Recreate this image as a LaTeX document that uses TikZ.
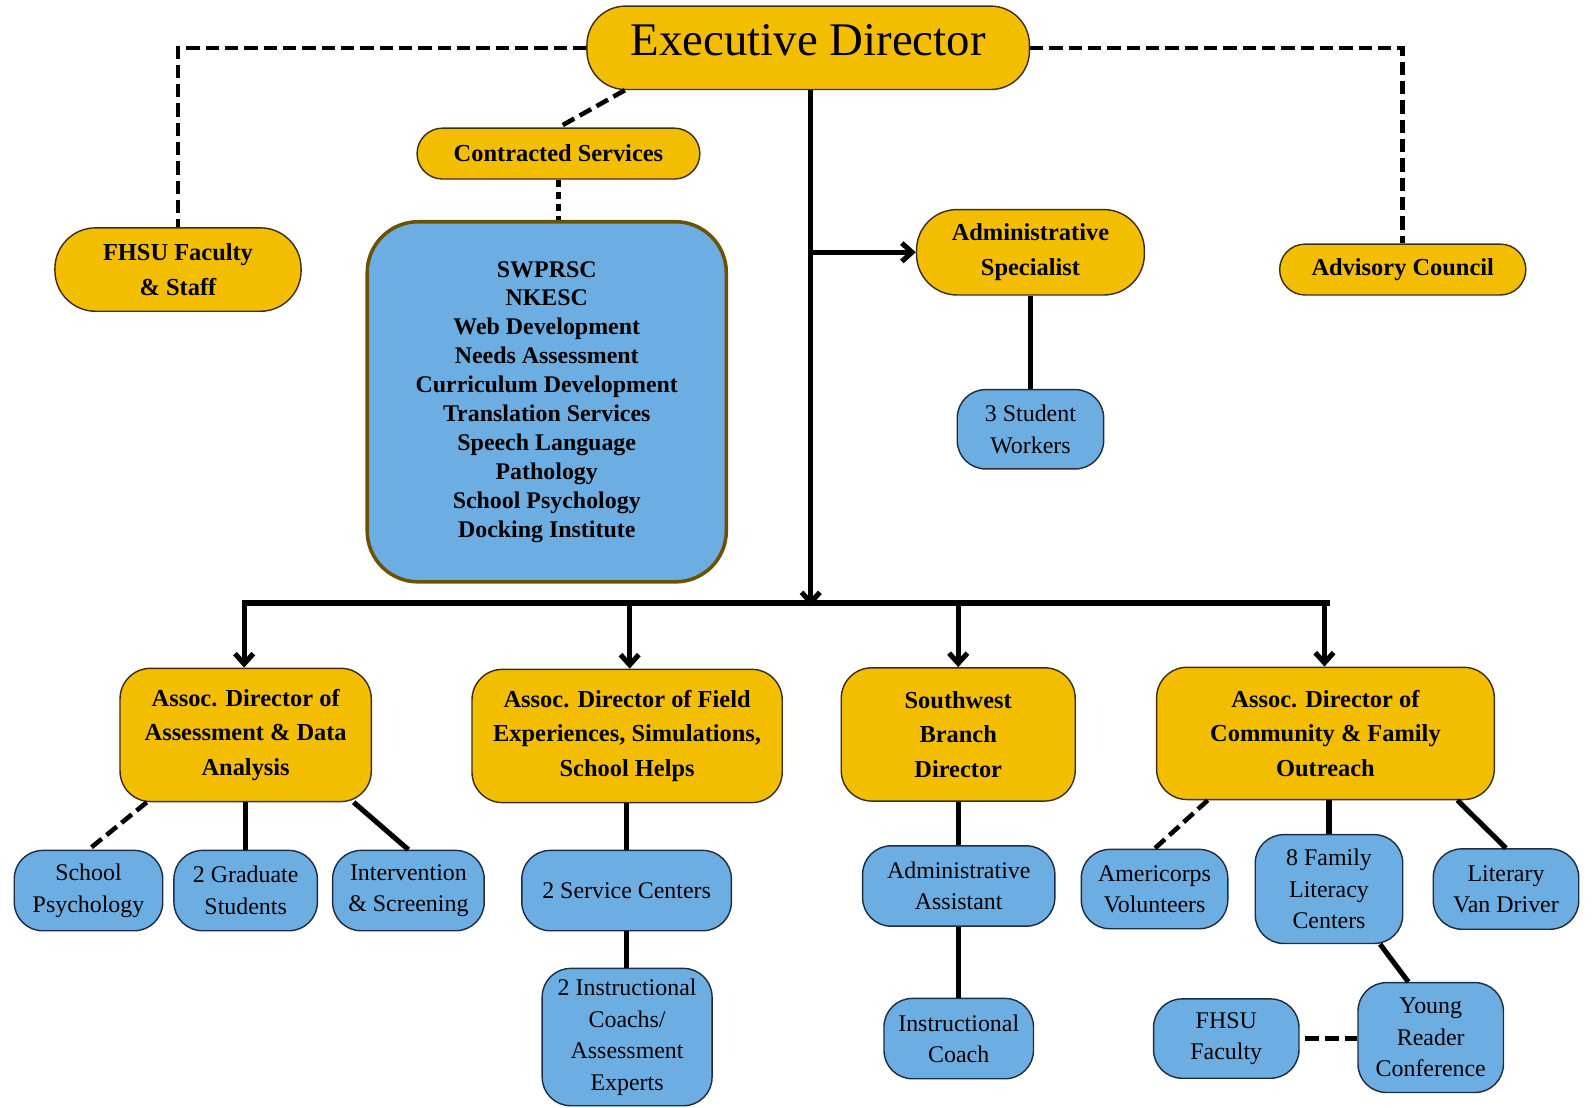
\documentclass[tikz,border=0pt]{standalone}
\usepackage{fontspec}
\setmainfont{Liberation Serif}
\usetikzlibrary{arrows.meta}
\definecolor{gold}{RGB}{244,190,0}
\definecolor{sky}{RGB}{108,174,225}
\definecolor{goldedge}{RGB}{60,48,20}
\definecolor{skyedge}{RGB}{30,45,65}
\definecolor{brownedge}{RGB}{107,82,0}
\begin{document}
\begin{tikzpicture}[x=1pt,y=-1pt,
  gnode/.style={draw=goldedge, line width=1.4pt, fill=gold, rounded corners=#1, align=center, inner sep=0pt, font=\bfseries\fontsize{24}{34}\selectfont},
  gnode/.default=30pt,
  bnode/.style={draw=skyedge, line width=1.4pt, fill=sky, rounded corners=#1, align=center, inner sep=0pt, font=\fontsize{23.5}{31}\selectfont},
  bnode/.default=28pt,
  conn/.style={line width=5pt},
  dconn/.style={line width=4.5pt, dash pattern=on 13pt off 6pt},
  arr/.style={line width=5pt, -{Straight Barb[length=10pt,width=18pt]}},
]
\useasboundingbox (0,0) rectangle (1568,1089);

% top level
\node[gnode=38pt, minimum width=435pt, minimum height=82pt, font=\fontsize{46}{50}\selectfont, text depth=15pt] (exec) at (794.5,47) {Executive Director};
\node[gnode=25pt, minimum width=278pt, minimum height=50pt] (contr) at (549,151) {Contracted Services};
\node[gnode=40pt, minimum width=242pt, minimum height=82pt] (fhsu) at (175,265) {FHSU Faculty\\\& Staff};
\node[gnode=40pt, minimum width=224pt, minimum height=84pt] (aspec) at (1013,248) {Administrative\\Specialist};
\node[gnode=25pt, minimum width=242pt, minimum height=50pt] (advis) at (1379,265) {Advisory Council};
\node[bnode, minimum width=144pt, minimum height=78pt] (stud) at (1013,422) {3 Student\\Workers};
\node[bnode=50pt, draw=brownedge, line width=3.5pt, minimum width=353pt, minimum height=354pt, font=\bfseries\fontsize{23.5}{28.4}\selectfont] (serv) at (537.5,395) {SWPRSC\\NKESC\\Web Development\\Needs Assessment\\Curriculum Development\\Translation Services\\Speech Language\\Pathology\\School Psychology\\Docking Institute};

% directors
\node[gnode, minimum width=247pt, minimum height=131pt] (ad1) at (241.5,722.5) {Assoc. Director of\\Assessment \& Data\\Analysis};
\node[gnode, minimum width=305pt, minimum height=131pt] (ad2) at (616.5,723.5) {Assoc. Director of Field\\Experiences, Simulations,\\School Helps};
\node[gnode, minimum width=230pt, minimum height=131pt] (sw) at (942,722) {Southwest\\Branch\\Director};
\node[gnode, minimum width=332pt, minimum height=130pt] (ad4) at (1303,721) {Assoc. Director of\\Community \& Family\\Outreach};

% children
\node[bnode, minimum width=146pt, minimum height=79pt] (spsy) at (87,875.5) {School\\Psychology};
\node[bnode, minimum width=141pt, minimum height=79pt] (grad) at (241.5,875.5) {2 Graduate\\Students};
\node[bnode, minimum width=149pt, minimum height=79pt] (interv) at (401.5,875.5) {Intervention\\\& Screening};
\node[bnode, minimum width=206pt, minimum height=79pt] (svc) at (616,875.5) {2 Service Centers};
\node[bnode, minimum width=167pt, minimum height=135pt] (coach) at (616.5,1019.5) {2 Instructional\\Coachs/\\Assessment\\Experts};
\node[bnode, minimum width=189pt, minimum height=79pt] (aasst) at (942.5,871) {Administrative\\Assistant};
\node[bnode, minimum width=147pt, minimum height=79pt] (icoach) at (942.5,1021) {Instructional\\Coach};
\node[bnode, minimum width=144pt, minimum height=78pt] (amer) at (1135,874) {Americorps\\Volunteers};
\node[bnode, minimum width=145pt, minimum height=107pt] (fam) at (1306.5,874) {8 Family\\Literacy\\Centers};
\node[bnode, minimum width=143pt, minimum height=79pt] (van) at (1480.5,874) {Literary\\Van Driver};
\node[bnode, minimum width=143pt, minimum height=108pt] (young) at (1406.5,1020) {Young\\Reader\\Conference};
\node[bnode, minimum width=143pt, minimum height=78pt] (fhfac) at (1205.5,1021) {FHSU\\Faculty};

% junction coordinates
\coordinate (barC) at (797,593);
\coordinate (barL) at (240,593);
\coordinate (barR) at (1305,593);
\coordinate (b2) at (619,593);
\coordinate (b3) at (942,593);
\coordinate (b4) at (1302,593);
\coordinate (tap) at (797,248);

% main connectors
\draw[arr] (exec.south -| barC) -- ([yshift=-3pt]barC);
\draw[line width=6pt] ([xshift=-2.5pt]barL) -- ([xshift=2.5pt]barR);
\draw[arr] (barL) -- (ad1.north -| barL);
\draw[arr] (b2) -- (ad2.north -| b2);
\draw[arr] (b3) -- (sw.north -| b3);
\draw[arr] (b4) -- (ad4.north -| b4);
\draw[arr] (tap) -- (aspec.west);
\draw[conn] (aspec.south) -- (stud.north);

% dashed links
\draw[dconn] (exec.west) -| (fhsu.north);
\draw[dconn] (exec.east) -| (advis.north);
\draw[dconn] ([xshift=38pt]exec.south west) -- (contr.north);
\draw[line width=5pt, dash pattern=on 7pt off 5pt] (contr.south) -- (serv.north -| contr.south);

% assessment children
\draw[dconn] ([xshift=27pt]ad1.south west) -- (spsy.north);
\draw[conn] (ad1.south) -- (grad.north);
\draw[conn] ([xshift=-18pt]ad1.south east) -- (interv.north);

% field children
\draw[conn] (ad2.south -| svc.north) -- (svc.north);
\draw[conn] (svc.south) -- (coach.north -| svc.south);

% southwest children
\draw[conn] (sw.south) -- (aasst.north -| sw.south);
\draw[conn] (aasst.south) -- (icoach.north);

% community children
\draw[dconn] ([xshift=51pt]ad4.south west) -- (amer.north);
\draw[conn] (ad4.south -| fam.north) -- (fam.north);
\draw[conn] ([xshift=-37pt]ad4.south east) -- (van.north);
\draw[conn] ([xshift=-23pt]fam.south east) -- ([xshift=-22pt]young.north);
\draw[dconn, dash pattern=on 14pt off 6pt] ([xshift=5pt]fhfac.east) -- (young.west |- fhfac.east);
\end{tikzpicture}
\end{document}
